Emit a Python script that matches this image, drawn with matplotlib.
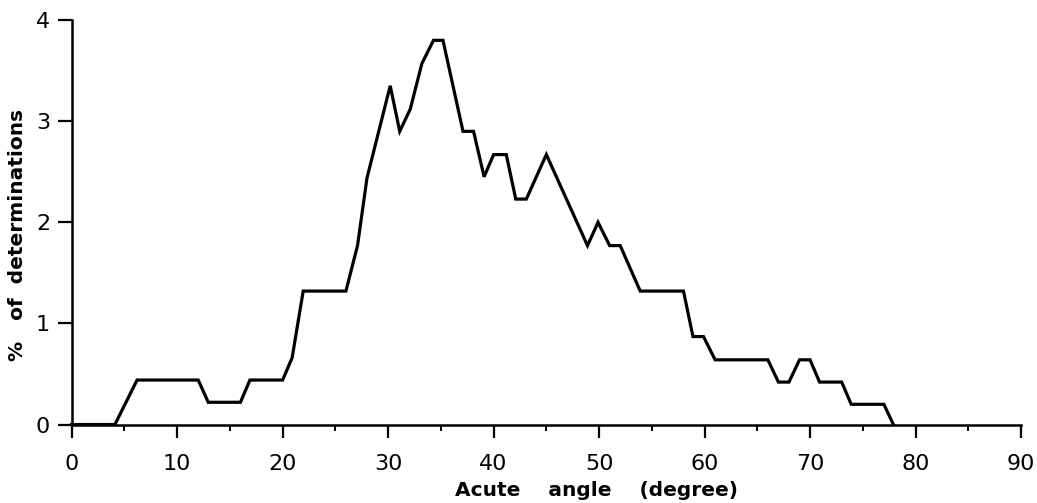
import matplotlib
matplotlib.use("Agg")
import matplotlib.pyplot as plt

# acute angle (degree) vs % of determinations
angle = [0, 4.1, 6.2, 12.0, 12.95, 16.0, 16.9, 20.0, 20.9, 21.95, 26.0, 27.1,
         28.0, 30.2, 31.1, 32.1, 33.2, 34.3, 35.2, 37.1, 38.1, 39.1, 40.0,
         41.2, 42.1, 43.1, 45.0, 48.9, 49.9, 51.0, 52.0, 53.9, 58.0, 58.9,
         59.9, 61.0, 66.0, 67.0, 68.0, 69.0, 70.0, 70.9, 73.0, 73.9, 77.0, 77.9]
percent = [0, 0, 0.44, 0.44, 0.22, 0.22, 0.44, 0.44, 0.66, 1.32, 1.32, 1.77,
           2.44, 3.35, 2.9, 3.12, 3.57, 3.8, 3.8, 2.9, 2.9, 2.45, 2.67,
           2.67, 2.23, 2.23, 2.67, 1.77, 2.0, 1.77, 1.77, 1.32, 1.32, 0.87,
           0.87, 0.64, 0.64, 0.42, 0.42, 0.64, 0.64, 0.42, 0.42, 0.2, 0.2, 0]

x_ticks = [0, 10, 20, 30, 40, 50, 60, 70, 80, 90]
y_ticks = [0, 1, 2, 3, 4]

plt.rcParams['font.family'] = ['DejaVu Sans']

fig = plt.figure(figsize=(10.37, 5.03), dpi=100)
ax = fig.add_axes([0.0691, 0.156, 0.9155, 0.804])

ax.plot(angle, percent, color='black', lw=2.3, solid_joinstyle='miter', clip_on=False)

ax.set_xlim(0, 90)
ax.set_ylim(0, 4)
ax.set_xticks(x_ticks)
ax.set_xticks(range(5, 90, 10), minor=True)
ax.set_yticks(y_ticks)

for s in ['top', 'right']:
    ax.spines[s].set_visible(False)
for s in ['left', 'bottom']:
    ax.spines[s].set_linewidth(1.8)

ax.tick_params(axis='x', which='major', direction='out', length=9, width=1.6,
               labelsize=16, pad=12)
ax.tick_params(axis='x', which='minor', direction='out', length=4.5, width=1.4)
ax.tick_params(axis='y', direction='out', length=10, width=1.6, labelsize=16, pad=5.5)

ax.set_xlabel('Acute    angle    (degree)', fontsize=14.5, fontweight='bold')
ax.set_ylabel('%   of  determinations', fontsize=14.5, fontweight='bold')
ax.xaxis.set_label_coords(0.553, -0.14)
ax.yaxis.set_label_coords(-0.047, 0.47)

fig.savefig('out.png', dpi=100, facecolor='white')
